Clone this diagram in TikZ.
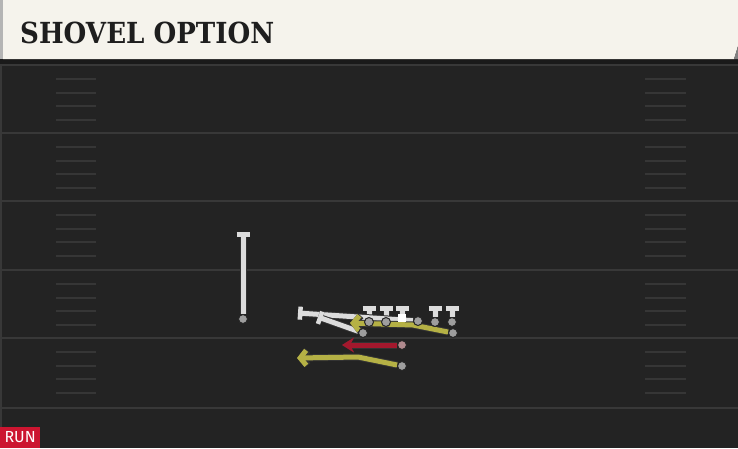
\documentclass[tikz,border=0pt]{standalone}
\usepackage{fontspec}
\usetikzlibrary{arrows.meta,shapes}
\newfontfamily\titlefont{DejaVu Serif}[FakeStretch=0.9]
\newfontfamily\runfont{Fira Sans}
\definecolor{field}{HTML}{232323}
\definecolor{fielddark}{HTML}{1A1A1A}
\definecolor{yardgray}{HTML}{383838}
\definecolor{hashgray}{HTML}{363636}
\definecolor{cream}{HTML}{F5F3EC}
\definecolor{bannergray}{HTML}{B4B4B4}
\definecolor{titleblack}{HTML}{1E1E1E}
\definecolor{runred}{HTML}{CC1530}
\definecolor{rtyellow}{HTML}{B5B145}
\definecolor{rtred}{HTML}{A3182D}
\definecolor{plwhite}{HTML}{DCDCDC}
\definecolor{dotgray}{HTML}{9E9E9E}
\definecolor{qbdot}{HTML}{B08A8E}
\pgfdeclarelayer{bg}
\pgfdeclarelayer{lines}
\pgfsetlayers{bg,lines,main}

\begin{document}
\begin{tikzpicture}[x=1pt,y=-1pt]
\tikzstyle{dot}=[circle,fill=dotgray,draw=black!85,line width=1pt,inner sep=0pt,minimum size=9pt]
\tikzstyle{ctr}=[rectangle,fill=white,inner sep=0pt,minimum size=8pt]
\tikzstyle{blk}=[draw=plwhite,line width=5pt,-{Bar[width=13pt,line width=4.5pt]},preaction={draw=black!80,line width=7pt}]
\tikzstyle{rte}=[line width=5pt,line join=round,preaction={draw=black!80,line width=7pt}]
\tikzstyle{yelrte}=[rte,draw=rtyellow,-{Straight Barb[length=6pt,width=15pt]}]
\tikzstyle{redrte}=[rte,draw=rtred,-{Stealth[length=12pt,width=15pt]}]
\tikzstyle{yard}=[draw=yardgray,line width=2pt]
\tikzstyle{hash}=[draw=hashgray,line width=1.5pt]
\useasboundingbox (0,0) rectangle (738,448);

% field and banner
\begin{pgfonlayer}{bg}
\fill[field] (0,0) rectangle (738,448);
\fill[fielddark] (0,59) rectangle (738,64);
\draw[yardgray,line width=1.5pt] (1,64) -- (1,448);
\foreach \y in {65,133,201,270,338,408}
  \draw[yard] (0,\y) -- (738,\y);
\foreach \y in {65,133,201,270,338}
  \foreach \d in {14,28,41,55} {
    \draw[hash] (56,\y+\d) -- (96,\y+\d);
    \draw[hash] (645,\y+\d) -- (686,\y+\d);
  }
\fill[cream] (3,0) -- (738,0) -- (738,46) -- (734,59) -- (3,59) -- cycle;
\fill[bannergray] (0,0) rectangle (3,59);
\fill[gray] (738,46) -- (738,59) -- (734,59) -- cycle;
\end{pgfonlayer}

\node[anchor=base west,inner sep=0pt,text=titleblack,font=\titlefont\bfseries\fontsize{29}{29}\selectfont] (title) at (20,43) {SHOVEL OPTION};
\node[anchor=south west,inner sep=0pt,fill=runred,text=white,minimum width=40pt,minimum height=21pt,font=\runfont\fontsize{16}{16}\selectfont] (run) at (0,448) {RUN};

% players
\node[dot] (wr)   at (243,319) {};
\node[dot] (lt)   at (369,322) {};
\node[dot] (lg)   at (386,322) {};
\node[ctr] (c)    at (402,318) {};
\node[dot] (rg)   at (418,321) {};
\node[dot] (rt)   at (435,322) {};
\node[dot] (te)   at (452,322) {};
\node[dot] (hb)   at (363,333) {};
\node[dot] (wing) at (453,333) {};
\node[dot,fill=qbdot] (qb) at (402,345) {};
\node[dot] (rb)   at (402,366) {};

\coordinate (wrT) at (243,232);
\coordinate (ltT) at (369,306);
\coordinate (lgT) at (386,306);
\coordinate (cT)  at (402,306);
\coordinate (rtT) at (435,306);
\coordinate (teT) at (452,306);
\coordinate (rgT) at (298,313);
\coordinate (hbT) at (318,317);
\coordinate (wingM) at (413,325);
\coordinate (wingE) at (350,323);
\coordinate (qbE)   at (342,345);
\coordinate (rbM)   at (358,357);
\coordinate (rbE)   at (297,358);

% blocks and routes
\begin{pgfonlayer}{lines}
\draw[blk] (wr) -- (wrT);
\draw[blk] (lt) -- (ltT);
\draw[blk] (lg) -- (lgT);
\draw[blk] (c)  -- (cT);
\draw[blk] (rt) -- (rtT);
\draw[blk] (te) -- (teT);
\draw[blk] (rg) -- (rgT);
\draw[blk] (hb) -- (hbT);
\draw[yelrte] (wing) -- (wingM) -- (wingE);
\draw[redrte] (qb) -- (qbE);
\draw[yelrte] (rb) -- (rbM) -- (rbE);
\end{pgfonlayer}
\end{tikzpicture}
\end{document}
